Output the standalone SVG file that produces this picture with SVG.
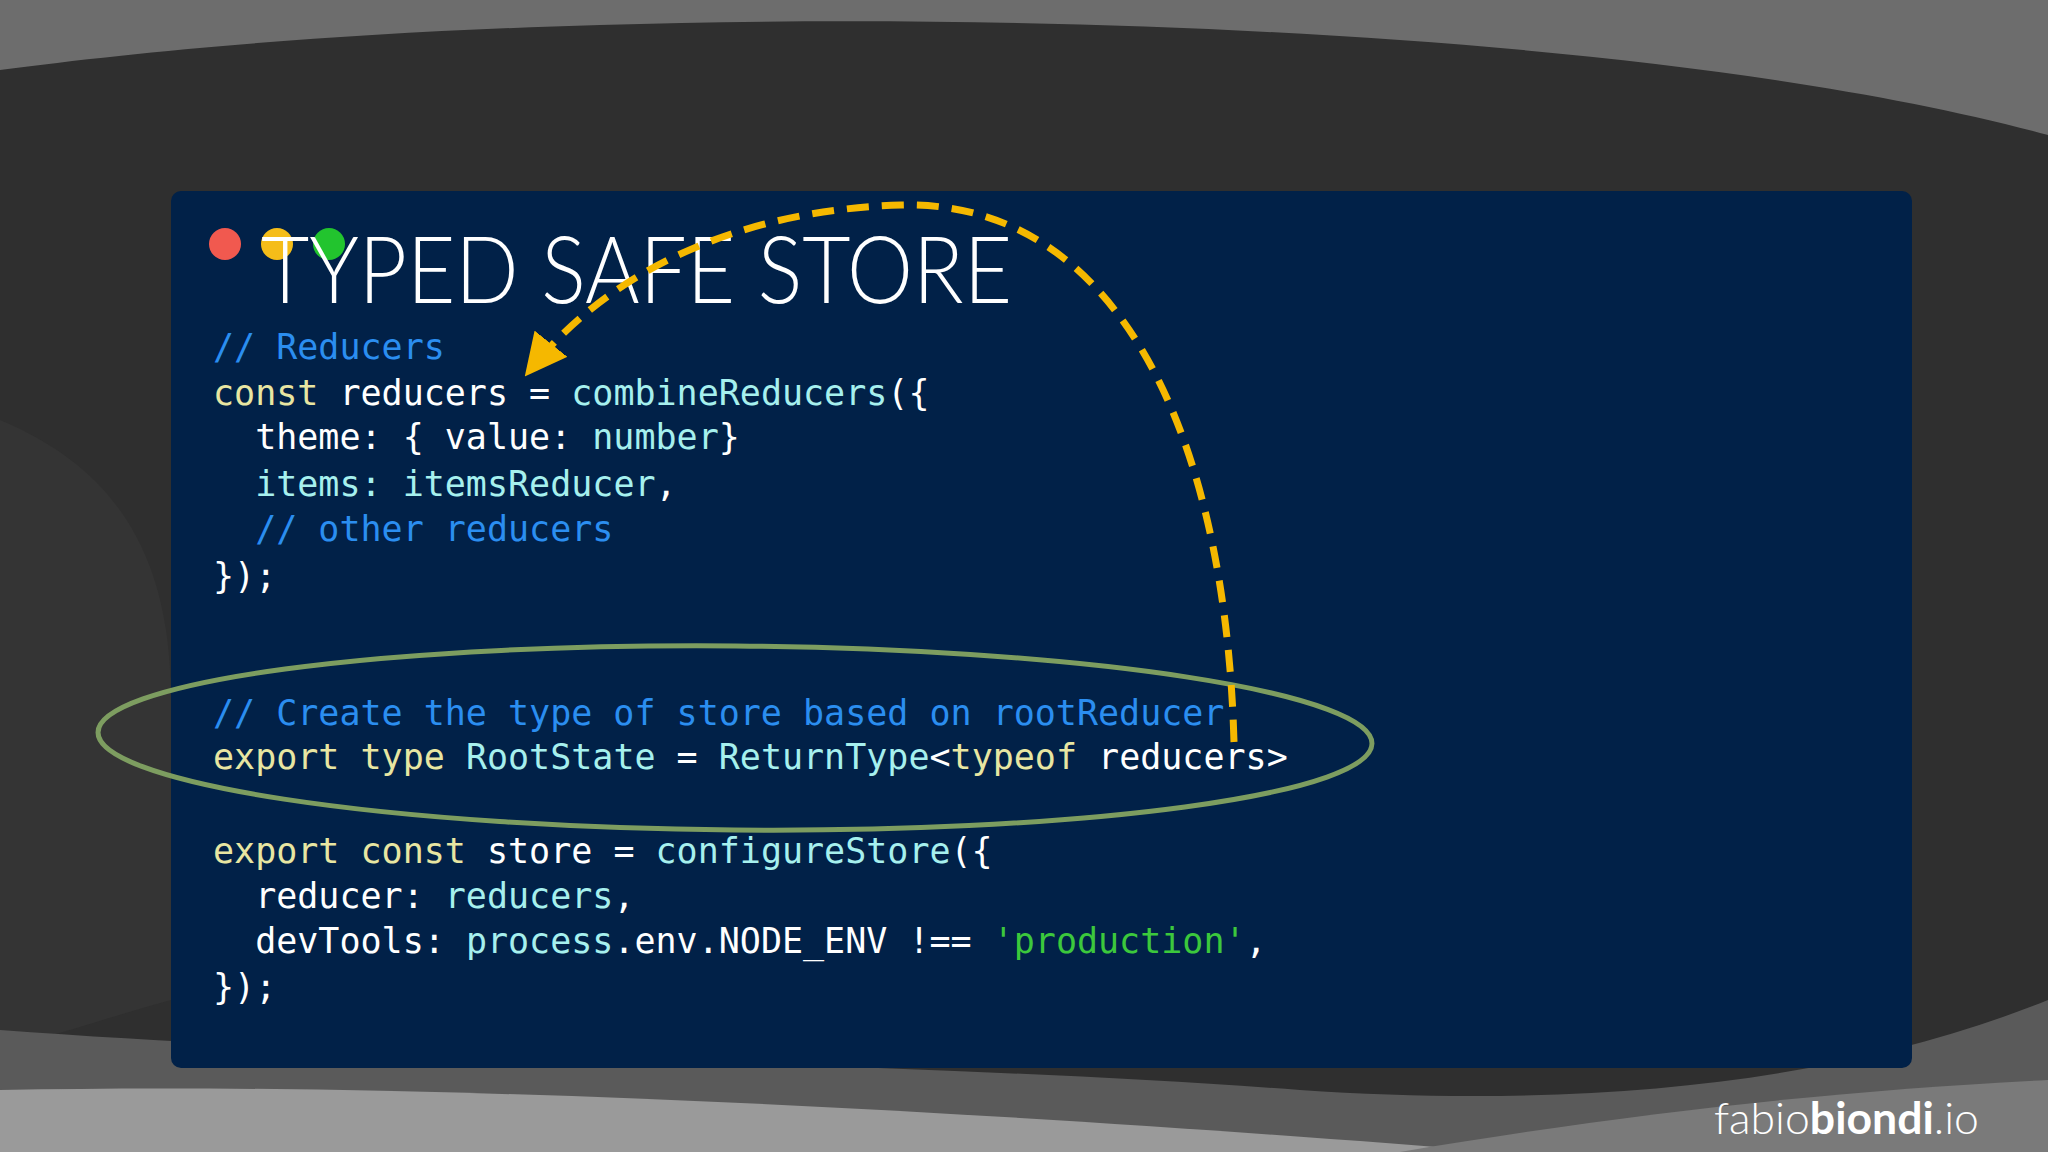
<svg xmlns="http://www.w3.org/2000/svg" width="2048" height="1152" viewBox="0 0 2048 1152">
<style>
.c{font-family:"DejaVu Sans Mono","Liberation Mono",monospace;font-size:35px;fill:#ffffff;white-space:pre}
.cm{fill:#2b8ef0}.kw{fill:#e8e6a2}.fn{fill:#a6f0ee}.st{fill:#3cc83c}
</style>
<defs>
<marker id="ah" viewBox="0 0 10 10" refX="8" refY="5" markerWidth="6" markerHeight="6" orient="auto-start-reverse" markerUnits="strokeWidth"><path d="M0,0 L10,5 L0,10 z" fill="#f5b800"/></marker>
</defs>
<rect width="2048" height="1152" fill="#2f2f2f"/>
<path d="M0,0 H2048 V135 C1700,40 1100,10 600,25 C350,32 150,50 0,70 Z" fill="#6d6d6d"/>
<path d="M0,420 C120,470 171,560 171,700 L171,1000 C100,1020 40,1040 0,1050 Z" fill="#343434"/>
<path d="M0,1030 C400,1060 900,1060 1300,1090 C1600,1110 1850,1080 2048,1000 V1152 H0 Z" fill="#5a5a5a"/>
<path d="M0,1090 C500,1080 1100,1120 1500,1152 H0 Z" fill="#9a9a9a"/>
<path d="M1400,1152 C1650,1110 1850,1090 2048,1080 V1152 Z" fill="#7a7a7a"/>
<g id="panel"><rect x="171" y="191" width="1741" height="877" rx="10" fill="#012148"/></g>
<g id="dots"><circle cx="225" cy="244" r="16" fill="#f1594f"/><circle cx="277" cy="244" r="16" fill="#f5bd19"/><circle cx="329" cy="244" r="16" fill="#22c42e"/></g>
<g id="title"><text x="261" y="303" font-family="Lato, 'Liberation Sans', sans-serif" font-weight="300" font-size="92" fill="#ffffff" textLength="751" lengthAdjust="spacingAndGlyphs">TYPED SAFE STORE</text></g>
<g id="code">
<text class="c" x="213" y="359"><tspan class="cm">// Reducers</tspan></text>
<text class="c" x="213" y="405"><tspan class="kw">const</tspan> reducers = <tspan class="fn">combineReducers</tspan>({</text>
<text class="c" x="213" y="449">  theme: { value: <tspan class="fn">number</tspan>}</text>
<text class="c" x="213" y="496">  <tspan class="fn">items: itemsReducer</tspan>,</text>
<text class="c" x="213" y="541">  <tspan class="cm">// other reducers</tspan></text>
<text class="c" x="213" y="588">});</text>
<text class="c" x="213" y="725"><tspan class="cm">// Create the type of store based on rootReducer</tspan></text>
<text class="c" x="213" y="769"><tspan class="kw">export</tspan> <tspan class="kw">type</tspan> <tspan class="fn">RootState</tspan> = <tspan class="fn">ReturnType</tspan>&lt;<tspan class="kw">typeof</tspan> reducers&gt;</text>
<text class="c" x="213" y="863"><tspan class="kw">export</tspan> <tspan class="kw">const</tspan> store = <tspan class="fn">configureStore</tspan>({</text>
<text class="c" x="213" y="908">  reducer: <tspan class="fn">reducers</tspan>,</text>
<text class="c" x="213" y="953">  devTools: <tspan class="fn">process</tspan>.env.NODE_ENV !== <tspan class="st">'production'</tspan>,</text>
<text class="c" x="213" y="999">});</text>
</g>
<g id="connectors">
<ellipse cx="735" cy="738" rx="637" ry="92" fill="none" stroke="#7d9d60" stroke-width="5" transform="rotate(0.5 735 738)"/>
<path d="M1234,742 C1225,420 1110,200 901,205 C740,210 610,270 530,370" fill="none" stroke="#f5b800" stroke-width="7" stroke-dasharray="22 13" marker-end="url(#ah)"/>
</g>
<g id="logo"><text x="1714" y="1134" font-family="Lato, 'Liberation Sans', sans-serif" font-size="44" fill="#ffffff" textLength="265" lengthAdjust="spacingAndGlyphs"><tspan font-weight="300">fabio</tspan><tspan font-weight="bold">biondi</tspan><tspan font-weight="300">.io</tspan></text></g>
</svg>
